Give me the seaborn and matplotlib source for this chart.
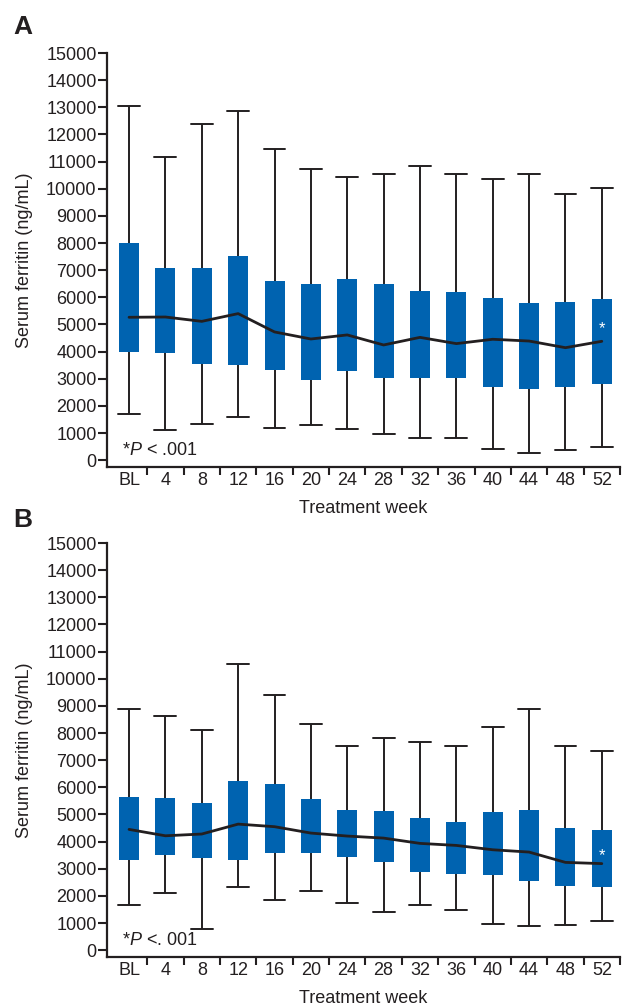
import numpy as np
import pandas as pd
import matplotlib
matplotlib.use("Agg")
import matplotlib.pyplot as plt
import seaborn as sns

sns.set_theme(style="white")
plt.rcParams['font.family'] = ['Liberation Sans', 'DejaVu Sans']
plt.rcParams['mathtext.fontset'] = 'custom'
plt.rcParams['mathtext.rm'] = 'Liberation Sans'
plt.rcParams['mathtext.it'] = 'Liberation Sans:italic'

weeks = ["BL", "4", "8", "12", "16", "20", "24", "28", "32", "36", "40", "44", "48", "52"]

# Panel A
a_low = [1690, 1110, 1340, 1610, 1180, 1290, 1140, 960, 810, 810, 430, 270, 390, 470]
a_q1 = [4000, 3960, 3555, 3520, 3330, 2965, 3295, 3040, 3040, 3040, 2705, 2630, 2705, 2815]
a_med = [5265, 5275, 5115, 5400, 4725, 4465, 4615, 4245, 4525, 4295, 4455, 4390, 4145, 4380]
a_q3 = [8000, 7070, 7070, 7530, 6605, 6495, 6680, 6495, 6235, 6200, 5980, 5795, 5830, 5940]
a_high = [13065, 11155, 12380, 12860, 11450, 10730, 10435, 10545, 10840, 10530, 10350, 10530, 9820, 10045]

# Panel B
b_low = [1680, 2095, 795, 2330, 1850, 2170, 1755, 1410, 1665, 1470, 980, 895, 930, 1080]
b_q1 = [3320, 3495, 3395, 3320, 3580, 3580, 3435, 3250, 2880, 2795, 2770, 2550, 2365, 2330]
b_med = [4450, 4215, 4280, 4645, 4550, 4315, 4205, 4130, 3935, 3860, 3700, 3615, 3235, 3190]
b_q3 = [5650, 5615, 5405, 6250, 6140, 5555, 5150, 5110, 4855, 4710, 5075, 5150, 4510, 4415]
b_high = [8890, 8645, 8130, 10545, 9405, 8350, 7540, 7835, 7675, 7505, 8215, 8880, 7515, 7355]

BOX = "#0063B0"
INK = "#231F20"
FS = 13

fig = plt.figure(figsize=(6.27, 10.08), dpi=100)
axA = fig.add_axes([107/627, 1-467/1008, 513/627, 414/1008])
axB = fig.add_axes([107/627, 1-957/1008, 513/627, 414/1008])


def panel(ax, low, q1, med, q3, high, star_y, ptext):
    rows = []
    for w, lo, a, m, b, hi in zip(weeks, low, q1, med, q3, high):
        for v in (lo, a, m, b, hi):
            rows.append({"week": w, "value": v})
    df = pd.DataFrame(rows)
    sns.boxplot(data=df, x="week", y="value", order=weeks, ax=ax,
                whis=(0, 100), showfliers=False, width=0.55,
                color=BOX, linecolor=INK, linewidth=1.4, saturation=1,
                boxprops=dict(facecolor=BOX, edgecolor=BOX, linewidth=0),
                medianprops=dict(linewidth=0, alpha=0),
                capwidths=0.6)
    sns.pointplot(x=weeks, y=med, order=weeks, ax=ax, color=INK,
                  markers="", linewidth=2.0, errorbar=None)
    ax.text(13, star_y, "*", color="white", ha="center", va="center",
            fontsize=12, zorder=10)
    ax.set_xlim(-0.606, 13.5)
    ax.set_ylim(-250, 15000)
    ax.set_yticks(np.arange(0, 15001, 1000))
    ax.set_xticks(np.arange(len(weeks)))
    ax.set_xticklabels(weeks)
    ax.set_xticks(np.arange(len(weeks)) + 0.5, minor=True)
    ax.tick_params(axis="x", which="major", length=0, pad=3.8, labelsize=FS, colors=INK)
    ax.tick_params(axis="x", which="minor", length=6, width=1.5, direction="out",
                   bottom=True, color=INK)
    ax.tick_params(axis="y", which="major", length=6.5, width=1.5, direction="out",
                   left=True, pad=1, labelsize=FS, colors=INK)
    for s in ["top", "right"]:
        ax.spines[s].set_visible(False)
    for s in ["left", "bottom"]:
        ax.spines[s].set_linewidth(1.6)
        ax.spines[s].set_color(INK)
    ax.spines["left"].set_bounds(-250, 15000)
    ax.set_xlabel("Treatment week", fontsize=FS, color=INK, labelpad=8)
    ax.set_ylabel("Serum ferritin (ng/mL)", fontsize=FS, color=INK)
    ax.yaxis.set_label_coords(-0.145, 0.5)
    ax.text(0.029, 0.029, ptext, transform=ax.transAxes, fontsize=FS,
            color=INK, va="baseline", ha="left")
    ax.grid(False)
    ax.set_facecolor("none")


panel(axA, a_low, a_q1, a_med, a_q3, a_high, 4860, r"*$\it{P}$ < .001")
panel(axB, b_low, b_q1, b_med, b_q3, b_high, 3470, r"*$\it{P}$ <. 001")

fig.text(13/627, 1-34/1008, "A", fontsize=19, fontweight="bold", color=INK, va="baseline")
fig.text(13/627, 1-527/1008, "B", fontsize=19, fontweight="bold", color=INK, va="baseline")

fig.savefig("out.png", dpi=100)
